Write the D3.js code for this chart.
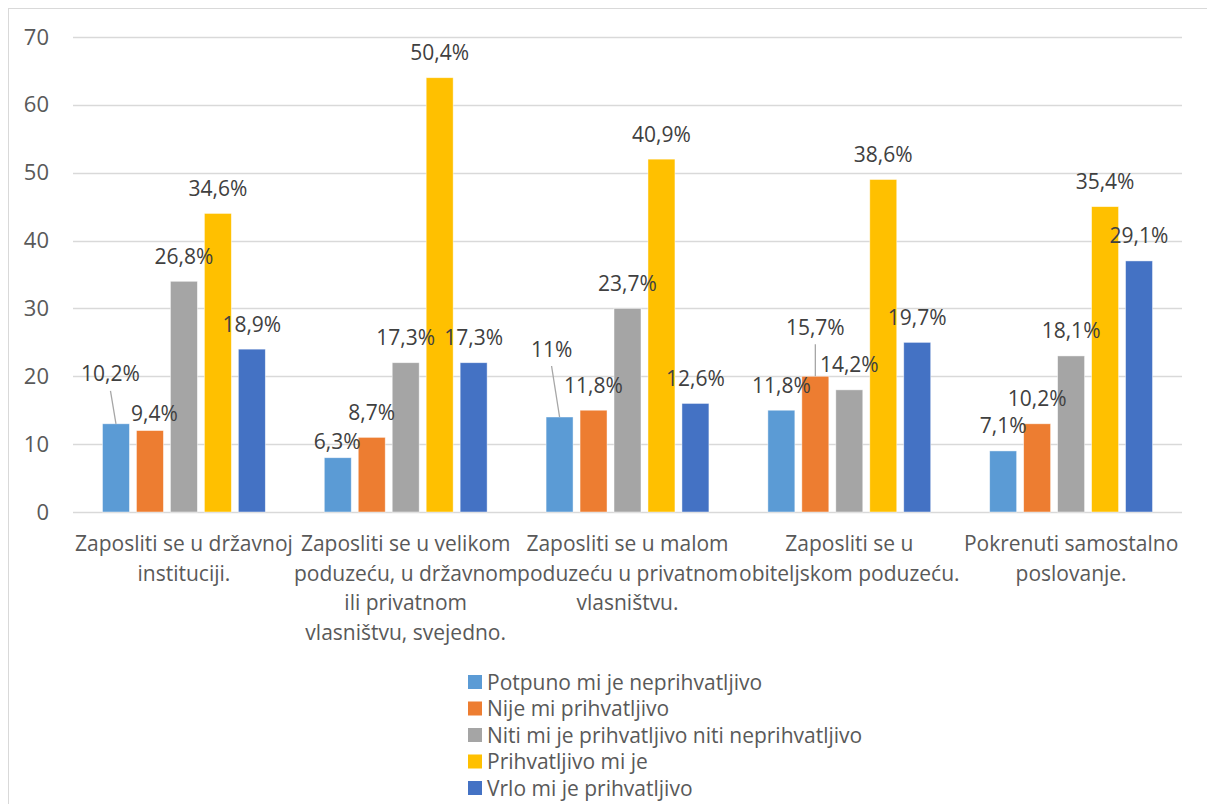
<!DOCTYPE html>
<html>
<head>
<meta charset="utf-8">
<script src="https://cdn.jsdelivr.net/npm/d3@7"></script>
<style>
  html, body { margin: 0; padding: 0; background: #fff; }
  svg { display: block; }
  text { font-family: "Open Sans", "Liberation Sans", sans-serif; fill: #595959; }
</style>
</head>
<body>
<svg id="chart" width="1207" height="804"></svg>
<script>
// ---- data ----
const categories = [
  "Zaposliti se u državnoj\ninstituciji.",
  "Zaposliti se u velikom\npoduzeću, u državnom\nili privatnom\nvlasništvu, svejedno.",
  "Zaposliti se u malom\npoduzeću u privatnom\nvlasništvu.",
  "Zaposliti se u\nobiteljskom poduzeću.",
  "Pokrenuti samostalno\nposlovanje."
];
const seriesNames = [
  "Potpuno mi je neprihvatljivo",
  "Nije mi prihvatljivo",
  "Niti mi je prihvatljivo niti neprihvatljivo",
  "Prihvatljivo mi je",
  "Vrlo mi je prihvatljivo"
];
const potpunoValues = [13, 8, 14, 15, 9];
const nijeValues = [12, 11, 15, 20, 13];
const nitiValues = [34, 22, 30, 18, 23];
const prihvatljivoValues = [44, 64, 52, 49, 45];
const vrloValues = [24, 22, 16, 25, 37];

const potpunoLabels = ["10,2%", "6,3%", "11%", "11,8%", "7,1%"];
const nijeLabels = ["9,4%", "8,7%", "11,8%", "15,7%", "10,2%"];
const nitiLabels = ["26,8%", "17,3%", "23,7%", "14,2%", "18,1%"];
const prihvatljivoLabels = ["34,6%", "50,4%", "40,9%", "38,6%", "35,4%"];
const vrloLabels = ["18,9%", "17,3%", "12,6%", "19,7%", "29,1%"];

const yTicks = [0, 10, 20, 30, 40, 50, 60, 70];

const colors = ["#5B9BD5", "#ED7D31", "#A5A5A5", "#FFC000", "#4472C4"];

// manual label nudges (series index, category index) -> offsets (layout only)
const labelNudges = [
  { s: 0, c: 0, dx: -5.5, dy: -25, leader: true },
  { s: 1, c: 0, dx: 4.5, dy: 7.5, leader: false },
  { s: 0, c: 1, dx: -0.6, dy: 9, leader: false },
  { s: 0, c: 2, dx: -8, dy: -43, leader: true },
  { s: 1, c: 3, dx: 0, dy: -24, leader: true }
];

// ---- build ----
const allValues = [potpunoValues, nijeValues, nitiValues, prihvatljivoValues, vrloValues];
const allLabels = [potpunoLabels, nijeLabels, nitiLabels, prihvatljivoLabels, vrloLabels];

const svg = d3.select("#chart");
const FS = 21;

// chart border
svg.append("rect")
  .attr("x", 8.5).attr("y", 8.5)
  .attr("width", 1220).attr("height", 820)
  .attr("fill", "#fff").attr("stroke", "#d9d9d9").attr("stroke-width", 1);

const plotLeft = 73, plotRight = 1182, plotTop = 37, plotBottom = 512;

const y = d3.scaleLinear().domain([0, 70]).range([plotBottom, plotTop]);
const x0 = d3.scaleBand().domain(d3.range(categories.length)).range([plotLeft, plotRight]).padding(0);
const x1 = d3.scaleBand().domain(d3.range(seriesNames.length))
  .range([0, x0.bandwidth()]).paddingInner(0.206).paddingOuter(0.868);

// gridlines
svg.append("g").selectAll("line").data(yTicks).join("line")
  .attr("x1", plotLeft).attr("x2", plotRight)
  .attr("y1", d => Math.round(y(d)) + 0.5).attr("y2", d => Math.round(y(d)) + 0.5)
  .attr("stroke", "#d9d9d9").attr("stroke-width", 1.3);

// y tick labels
const yAxis = d3.axisLeft(y).tickValues(yTicks).tickSize(0).tickPadding(0);
const yg = svg.append("g").attr("transform", `translate(49,0)`).call(yAxis);
yg.select(".domain").remove();
yg.selectAll("text")
  .attr("font-size", 22)
  .attr("font-family", '"Open Sans", "Liberation Sans", sans-serif')
  .attr("fill", "#595959");

// bars
const groups = svg.append("g").selectAll("g").data(categories).join("g")
  .attr("transform", (d, i) => `translate(${x0(i)},0)`);

groups.each(function (cat, ci) {
  const g = d3.select(this);
  const rows = seriesNames.map((s, si) => ({ si, ci, v: allValues[si][ci] }));
  g.selectAll("rect").data(rows).join("rect")
    .attr("x", d => x1(d.si))
    .attr("width", x1.bandwidth())
    .attr("y", d => y(d.v))
    .attr("height", d => y(0) - y(d.v))
    .attr("fill", d => colors[d.si])
    .attr("stroke", "rgba(255,255,255,0.6)")
    .attr("stroke-width", 0.75);
});

// data labels
const labelRows = [];
allValues.forEach((vals, si) => vals.forEach((v, ci) => {
  const nudge = labelNudges.find(n => n.s === si && n.c === ci) || { dx: 0, dy: 0, leader: false };
  const bx = x0(ci) + x1(si) + x1.bandwidth() / 2;
  const by = y(v);
  labelRows.push({ text: allLabels[si][ci], bx, by, lx: bx + nudge.dx, ly: by - 25 + nudge.dy, leader: nudge.leader });
}));

svg.append("g").selectAll("line").data(labelRows.filter(d => d.leader)).join("line")
  .attr("x1", d => d.lx).attr("y1", d => d.ly + 17)
  .attr("x2", d => d.bx).attr("y2", d => d.by)
  .attr("stroke", "#a6a6a6").attr("stroke-width", 1.3);

svg.append("g").selectAll("text").data(labelRows).join("text")
  .attr("x", d => d.lx).attr("y", d => d.ly + 7.5)
  .attr("text-anchor", "middle")
  .attr("font-size", FS)
  .style("fill", "#404040")
  .text(d => d.text);

// category labels
const catG = svg.append("g");
categories.forEach((c, ci) => {
  const cx = x0(ci) + x0.bandwidth() / 2;
  const t = catG.append("text").attr("text-anchor", "middle").attr("font-size", FS);
  c.split("\n").forEach((line, li) => {
    t.append("tspan").attr("x", cx).attr("y", 551 + li * 29.5).text(line);
  });
});

// legend
const legend = svg.append("g");
seriesNames.forEach((s, si) => {
  const cy = 682 + si * 26.5;
  legend.append("rect").attr("x", 468).attr("y", cy - 7).attr("width", 14).attr("height", 14).attr("fill", colors[si]);
  legend.append("text").attr("x", 487).attr("y", cy + 7.5).attr("font-size", FS).text(s);
});
</script>
</body>
</html>
